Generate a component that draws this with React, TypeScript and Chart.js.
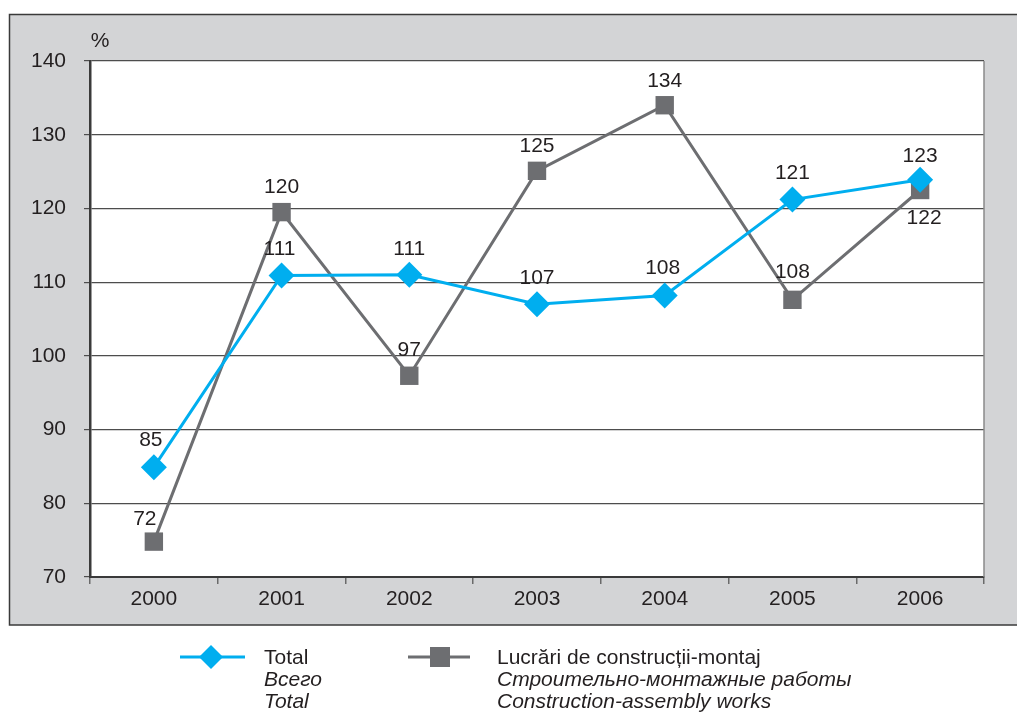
import React, { useEffect, useRef } from "react";
import { Chart, registerables } from "chart.js";

Chart.register(...registerables);

const years = ["2000", "2001", "2002", "2003", "2004", "2005", "2006"];
const totalValues = [84.9, 110.9, 111.0, 107.0, 108.2, 121.2, 123.9];
const totalLabels = ["85", "111", "111", "107", "108", "121", "123"];
const constructionValues = [74.8, 119.5, 97.3, 125.1, 134.0, 107.6, 122.5];
const constructionLabels = ["72", "120", "97", "125", "134", "108", "122"];
const yMin = 70;
const yMax = 140;
const yStep = 10;
const yUnit = "%";
const legendTotal = ["Total", "Всего", "Total"];
const legendConstruction = [
  "Lucrări de construcții-montaj",
  "Строительно-монтажные работы",
  "Construction-assembly works",
];

// label placement offsets (dx, dy) relative to each point
const totalLabelOffsets = [
  [-3, -27], [-2, -26], [0, -26], [0, -26], [-2, -27], [0, -26], [0, -23],
];
const constructionLabelOffsets = [
  [-9, -22], [0, -25], [0, -26], [0, -25], [0, -24], [0, -28], [4, 28],
];

const FONT = '"Liberation Sans", Arial, Helvetica, sans-serif';
const CYAN = "#00aeef";
const GRAY = "#6d6e71";
const TEXT = "#231f20";
const PANEL = "#d3d4d6";

const decorPlugin = {
  id: "decor",
  beforeDraw(chart: any) {
    const { ctx, chartArea } = chart;
    ctx.save();
    ctx.fillStyle = "#ffffff";
    ctx.fillRect(0, 0, chart.width, chart.height);
    ctx.fillStyle = PANEL;
    ctx.fillRect(9, 14, chart.width - 9 + 5, 625 - 14);
    ctx.strokeStyle = "#3a3a3a";
    ctx.lineWidth = 1.5;
    ctx.strokeRect(9.5, 14.5, chart.width + 5, 625 - 14.5);
    ctx.fillStyle = "#ffffff";
    ctx.fillRect(
      chartArea.left,
      chartArea.top,
      chartArea.right - chartArea.left,
      chartArea.bottom - chartArea.top
    );
    ctx.restore();
  },
  afterDatasetsDraw(chart: any) {
    const { ctx, chartArea } = chart;
    ctx.save();
    // right border
    ctx.strokeStyle = "#8a8a8a";
    ctx.lineWidth = 1.5;
    ctx.beginPath();
    ctx.moveTo(chartArea.right, chartArea.top);
    ctx.lineTo(chartArea.right, chartArea.bottom);
    ctx.stroke();

    // unit label
    ctx.fillStyle = TEXT;
    ctx.font = `21px ${FONT}`;
    ctx.textAlign = "center";
    ctx.textBaseline = "middle";
    ctx.fillText(yUnit, 100, 41);

    // data labels
    const sets = [
      { idx: 0, labels: totalLabels, offsets: totalLabelOffsets },
      { idx: 1, labels: constructionLabels, offsets: constructionLabelOffsets },
    ];
    sets.forEach((s) => {
      const meta = chart.getDatasetMeta(s.idx);
      meta.data.forEach((pt: any, i: number) => {
        const [dx, dy] = s.offsets[i];
        ctx.fillText(s.labels[i], pt.x + dx, pt.y + dy);
      });
    });
    ctx.restore();
  },
  afterDraw(chart: any) {
    const { ctx } = chart;
    ctx.save();
    const ly = 657;
    // Total legend marker
    ctx.strokeStyle = CYAN;
    ctx.lineWidth = 3;
    ctx.beginPath();
    ctx.moveTo(180, ly);
    ctx.lineTo(245, ly);
    ctx.stroke();
    ctx.fillStyle = CYAN;
    ctx.beginPath();
    ctx.moveTo(211, ly - 12);
    ctx.lineTo(223, ly);
    ctx.lineTo(211, ly + 12);
    ctx.lineTo(199, ly);
    ctx.closePath();
    ctx.fill();
    // Construction legend marker
    ctx.strokeStyle = GRAY;
    ctx.beginPath();
    ctx.moveTo(408, ly);
    ctx.lineTo(470, ly);
    ctx.stroke();
    ctx.fillStyle = GRAY;
    ctx.fillRect(440 - 10, ly - 10, 20, 20);

    ctx.fillStyle = TEXT;
    ctx.textAlign = "left";
    ctx.textBaseline = "middle";
    const rows = [658, 680, 702];
    rows.forEach((y, i) => {
      ctx.font = `${i === 0 ? "" : "italic "}21px ${FONT}`;
      ctx.fillText(legendTotal[i], 264, y);
      ctx.fillText(legendConstruction[i], 497, y);
    });
    ctx.restore();
  },
};

export default function App() {
  const ref = useRef<HTMLCanvasElement | null>(null);
  useEffect(() => {
    if (!ref.current) return;
    const chart = new Chart(ref.current, {
      type: "line",
      data: {
        labels: years,
        datasets: [
          {
            label: legendTotal.join(" / "),
            data: totalValues,
            borderColor: CYAN,
            backgroundColor: CYAN,
            borderWidth: 3,
            pointStyle: "rectRot",
            pointRadius: 13,
            pointBorderWidth: 0,
            pointBackgroundColor: CYAN,
            tension: 0,
          },
          {
            label: legendConstruction.join(" / "),
            data: constructionValues,
            borderColor: GRAY,
            backgroundColor: GRAY,
            borderWidth: 3,
            pointStyle: "rect",
            pointRadius: 13,
            pointBorderWidth: 0,
            pointBackgroundColor: GRAY,
            tension: 0,
          },
        ],
      },
      options: {
        responsive: false,
        animation: false,
        layout: { padding: { left: 0, top: 61, right: 33, bottom: 88 } },
        plugins: {
          legend: { display: false },
          tooltip: { enabled: false },
        },
        scales: {
          x: {
            offset: true,
            afterFit: (scale: any) => {
              scale.height = 48;
            },
            grid: {
              offset: true,
              drawOnChartArea: false,
              drawTicks: true,
              tickLength: 7,
              color: "#6a6a6a",
              lineWidth: 1.5,
            },
            border: { display: true, color: "#3a3a3a", width: 2 },
            ticks: {
              color: TEXT,
              font: { family: FONT, size: 21 },
              padding: 3,
            },
          },
          y: {
            min: yMin,
            max: yMax,
            afterFit: (scale: any) => {
              scale.width = 90;
            },
            ticks: {
              stepSize: yStep,
              color: TEXT,
              font: { family: FONT, size: 21 },
              padding: 18,
            },
            grid: {
              color: "#4d4d4d",
              lineWidth: 1.2,
              tickLength: 6,
              drawTicks: true,
            },
            border: { display: true, color: "#3a3a3a", width: 2.5 },
          },
        },
      },
      plugins: [decorPlugin],
    });
    return () => chart.destroy();
  }, []);
  return (
    <div style={{ position: "absolute", left: 0, top: 0, width: 1017, height: 713 }}>
      <canvas ref={ref} width={1017} height={713} style={{ display: "block" }} />
    </div>
  );
}
